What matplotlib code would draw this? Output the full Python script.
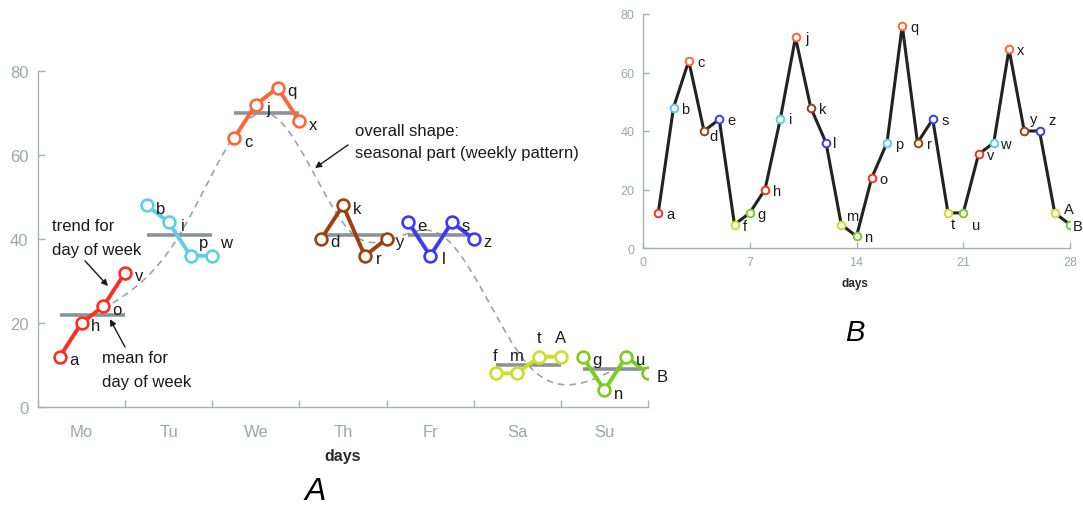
import numpy as np
import matplotlib
matplotlib.use("Agg")
import matplotlib.pyplot as plt

plt.rcParams['font.family'] = ['Liberation Sans', 'DejaVu Sans']

# ---------------- data ----------------
days = ['Mo', 'Tu', 'We', 'Th', 'Fr', 'Sa', 'Su']
point_labels = list('abcdefghijklmnopqrstuvwxyz') + ['A', 'B']
values = [12, 48, 64, 40, 44, 8, 12,
          20, 44, 72, 48, 36, 8, 4,
          24, 36, 76, 36, 44, 12, 12,
          32, 36, 68, 40, 40, 12, 8]
day_colors = ['#FF2D20', '#5CCFE6', '#FF6633', '#A0400F', '#3B3BF5', '#CCDD2A', '#7ACC1E']
y_ticks = [0, 20, 40, 60, 80]
b_x_ticks = [0, 7, 14, 21, 28]

# label offsets (pixels) for panel A and B
offA_default = (14, -3)
offA = {'p': (13, 13), 'w': (14, 13), 'f': (0, 18), 'm': (0, 18), 't': (0, 19), 'A': (0, 19),
        'j': (12, -4)}
offB_default = (12, -1)
offB = {'d': (9, -5), 'm': (11, 9), 't': (5, -11), 'u': (13, -12), 'y': (9, 12), 'z': (13, 11),
        'A': (14, 4), 'f': (10, -1), 'l': (9, 0), 'i': (10, 0), 'B': (8, -1)}

vals = np.array(values, dtype=float)
n_weeks = len(values) // 7
weekday = np.arange(len(values)) % 7
week = np.arange(len(values)) // 7

W, H = 1083, 506
fig = plt.figure(figsize=(W / 100, H / 100), dpi=100)

axis_col = '#A9B1B6'
tick_col = '#9DA6AB'
txt_col = '#1A1A1A'


def px_rect(x0, x1, y_top, y_bot):
    return [x0 / W, 1 - y_bot / H, (x1 - x0) / W, (y_bot - y_top) / H]


def natural_spline(xk, yk, xs):
    xk = np.asarray(xk, float); yk = np.asarray(yk, float)
    n = len(xk); h = np.diff(xk)
    A = np.zeros((n, n)); r = np.zeros(n)
    A[0, 0] = 1; A[-1, -1] = 1
    for i in range(1, n - 1):
        A[i, i - 1] = h[i - 1]; A[i, i] = 2 * (h[i - 1] + h[i]); A[i, i + 1] = h[i]
        r[i] = 3 * ((yk[i + 1] - yk[i]) / h[i] - (yk[i] - yk[i - 1]) / h[i - 1])
    c = np.linalg.solve(A, r)
    b = (yk[1:] - yk[:-1]) / h - h * (2 * c[:-1] + c[1:]) / 3
    d = (c[1:] - c[:-1]) / (3 * h)
    idx = np.clip(np.searchsorted(xk, xs) - 1, 0, n - 2)
    dx = xs - xk[idx]
    return yk[idx] + b[idx] * dx + c[idx] * dx ** 2 + d[idx] * dx ** 3


def style_axes(ax, fs):
    for s in ['top', 'right']:
        ax.spines[s].set_visible(False)
    for s in ['left', 'bottom']:
        ax.spines[s].set_color(axis_col)
        ax.spines[s].set_linewidth(1.0)
    ax.tick_params(which='both', direction='in', colors=axis_col, labelcolor=tick_col,
                   labelsize=fs, length=5, width=1.0)


# ---------------- panel A ----------------
axA = fig.add_axes(px_rect(38, 648, 72, 408))
axA.set_xlim(0, 7)
axA.set_ylim(0, 80)
style_axes(axA, 12)
axA.set_yticks(y_ticks)
axA.tick_params(axis='y', pad=7)
axA.set_xticks(range(8))
axA.set_xticklabels([])
axA.set_xticks(np.arange(7) + 0.5, minor=True)
axA.set_xticklabels(days, minor=True)
axA.tick_params(axis='x', which='minor', length=0, pad=12)

xpos = weekday + (week + 1) / n_weeks
means = np.array([vals[weekday == d].mean() for d in range(7)])
centers = np.arange(7) + (np.arange(n_weeks).mean() + 1) / n_weeks

xs = np.linspace(centers[0], centers[-1], 400)
axA.plot(xs, natural_spline(centers, means, xs), color='#9CA3A8', lw=1.2,
         dashes=(4, 3), zorder=1)

for d in range(7):
    m = weekday == d
    axA.plot([d + 1 / n_weeks, d + 1], [means[d], means[d]], color='#8A9399',
             lw=2.6, solid_capstyle='butt', zorder=2)
    axA.plot(xpos[m], vals[m], color=day_colors[d], lw=2.8, marker='o', ms=8.5,
             mfc='white', mec=day_colors[d], mew=1.9, zorder=3)

for i, lab in enumerate(point_labels):
    dx, dy = offA.get(lab, offA_default)
    axA.annotate(lab, (xpos[i], vals[i]), xytext=(dx, dy), textcoords='offset pixels',
                 ha='center', va='center', fontsize=12, color=txt_col, zorder=4)

arrow = dict(arrowstyle='-|>', color=txt_col, lw=1.0, mutation_scale=9, shrinkA=0, shrinkB=0)
axA.text(0.16, 40.4, 'trend for\nday of week', fontsize=12, color=txt_col,
         va='center', ha='left', linespacing=1.75)
axA.annotate('', xy=(0.803, 28.8), xytext=(0.539, 34.8), arrowprops=arrow)
axA.text(0.734, 8.9, 'mean for\nday of week', fontsize=12, color=txt_col,
         va='center', ha='left', linespacing=1.75)
axA.annotate('', xy=(0.826, 20.9), xytext=(0.998, 14.3), arrowprops=arrow)
axA.text(3.638, 63.3, 'overall shape:\nseasonal part (weekly pattern)', fontsize=12,
         color=txt_col, va='center', ha='left', linespacing=1.6)
axA.annotate('', xy=(3.179, 56.9), xytext=(3.557, 62.4), arrowprops=arrow)

fig.text(343 / W, 1 - 457 / H, 'days', fontsize=11.5, fontweight='bold', color='#2A2A2A',
         ha='center', va='center')
fig.text(315 / W, 1 - 492 / H, 'A', fontsize=23, fontstyle='italic', color='black',
         ha='center', va='center')

# ---------------- panel B ----------------
axB = fig.add_axes(px_rect(643, 1070, 15, 249))
axB.set_xlim(0, 28)
axB.set_ylim(0, 80)
style_axes(axB, 9)
axB.set_yticks(y_ticks)
axB.set_xticks(b_x_ticks)
axB.tick_params(axis='x', pad=6)
axB.tick_params(axis='y', pad=6)
axB.tick_params(length=4)

t = np.arange(1, len(values) + 1)
axB.plot(t, vals, color='#222222', lw=2.2, solid_joinstyle='miter', zorder=2)
for i, lab in enumerate(point_labels):
    c = day_colors[weekday[i]]
    axB.plot(t[i], vals[i], 'o', ms=5.5, mfc='white', mec=c, mew=1.4, zorder=3)
    dx, dy = offB.get(lab, offB_default)
    axB.annotate(lab, (t[i], vals[i]), xytext=(dx, dy), textcoords='offset pixels',
                 ha='center', va='center', fontsize=10.5, color=txt_col, zorder=4,
                 annotation_clip=False)

fig.text(855 / W, 1 - 284 / H, 'days', fontsize=8.5, fontweight='bold', color='#2A2A2A',
         ha='center', va='center')
fig.text(855 / W, 1 - 333 / H, 'B', fontsize=21, fontstyle='italic', color='black',
         ha='center', va='center')

fig.savefig('out.png', dpi=100)
